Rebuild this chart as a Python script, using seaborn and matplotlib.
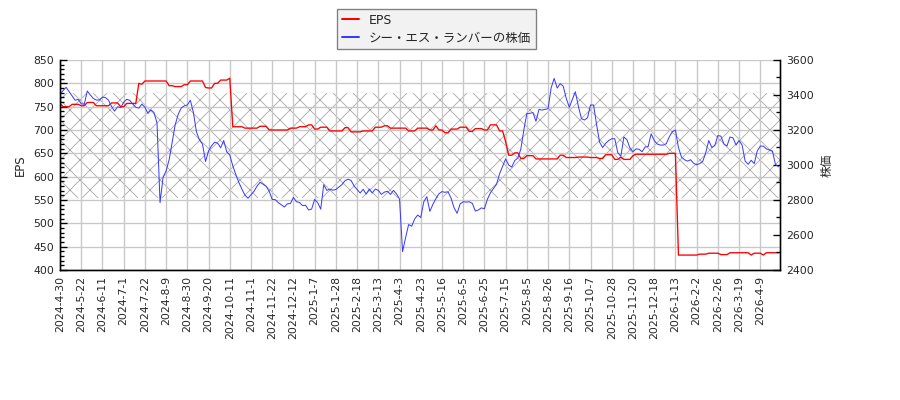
import numpy as np
import pandas as pd
import seaborn as sns
import matplotlib
matplotlib.use('Agg')
import matplotlib.pyplot as plt
from matplotlib.ticker import MultipleLocator

# x tick labels (one every 14 trading days)
tick_labels = ['2024-4-30', '2024-5-22', '2024-6-11', '2024-7-1', '2024-7-22', '2024-8-9',
               '2024-8-30', '2024-9-20', '2024-10-11', '2024-11-1', '2024-11-22', '2024-12-12',
               '2025-1-7', '2025-1-28', '2025-2-18', '2025-3-13', '2025-4-3', '2025-4-23',
               '2025-5-16', '2025-6-5', '2025-6-25', '2025-7-15', '2025-8-5', '2025-8-26',
               '2025-9-16', '2025-10-7', '2025-10-28', '2025-11-20', '2025-12-18', '2026-1-13',
               '2026-2-2', '2026-2-26', '2026-3-19', '2026-4-9']

# share price, one value every 2 trading days
price = [3404, 3425, 3444, 3419, 3395, 3370, 3375, 3350, 3347, 3423,
         3400, 3380, 3371, 3372, 3388, 3385, 3370, 3335, 3308, 3333,
         3328, 3358, 3375, 3370, 3348, 3330, 3325, 3348, 3330, 3295,
         3315, 3300, 3240, 2785, 2930, 2966, 3030, 3130, 3230, 3290,
         3326, 3338, 3343, 3370, 3300, 3190, 3143, 3120, 3020, 3080,
         3110, 3130, 3125, 3098, 3140, 3075, 3057, 2995, 2945, 2900,
         2862, 2828, 2810, 2830, 2850, 2880, 2901, 2890, 2878, 2850,
         2803, 2802, 2785, 2773, 2760, 2778, 2780, 2815, 2790, 2786,
         2768, 2770, 2743, 2748, 2803, 2785, 2748, 2888, 2855, 2862,
         2856, 2860, 2874, 2888, 2910, 2919, 2912, 2880, 2860, 2840,
         2861, 2834, 2862, 2840, 2863, 2855, 2832, 2845, 2850, 2832,
         2855, 2835, 2805, 2505, 2585, 2660, 2650, 2692, 2714, 2700,
         2790, 2819, 2735, 2775, 2808, 2836, 2848, 2844, 2847, 2810,
         2755, 2724, 2778, 2790, 2788, 2790, 2781, 2737, 2743, 2755,
         2750, 2805, 2842, 2866, 2890, 2950, 2992, 3035, 3000, 2988,
         3025, 3040, 3090, 3200, 3295, 3295, 3300, 3250, 3318, 3314,
         3318, 3322, 3440, 3495, 3440, 3465, 3450, 3380, 3330, 3375,
         3419, 3335, 3265, 3257, 3270, 3343, 3343, 3230, 3130, 3100,
         3124, 3140, 3150, 3150, 3070, 3050, 3160, 3145, 3097, 3076,
         3092, 3090, 3076, 3103, 3105, 3178, 3140, 3120, 3114, 3114,
         3122, 3162, 3190, 3200, 3100, 3045, 3030, 3022, 3030, 3010,
         3001, 3008, 3020, 3070, 3140, 3100, 3112, 3168, 3165, 3120,
         3108, 3160, 3155, 3114, 3140, 3114, 3022, 3004, 3027, 3008,
         3080, 3108, 3108, 3092, 3086, 3080, 3003, 2990]

# EPS on the same dates
eps = [757, 750, 750, 750, 755, 755, 755, 752, 752, 759,
       759, 759, 752, 752, 752, 752, 752, 758, 758, 758,
       750, 750, 757, 757, 757, 757, 800, 798, 805, 805,
       805, 805, 805, 805, 805, 805, 795, 795, 793, 793,
       793, 797, 797, 805, 805, 805, 805, 805, 791, 790,
       790, 800, 800, 807, 807, 807, 811, 707, 707, 707,
       707, 704, 704, 704, 704, 704, 708, 708, 708, 700,
       700, 700, 700, 700, 700, 700, 704, 704, 704, 707,
       707, 707, 711, 711, 702, 702, 706, 706, 706, 698,
       698, 698, 698, 698, 705, 705, 696, 696, 696, 696,
       698, 698, 698, 698, 706, 706, 706, 709, 709, 704,
       704, 704, 704, 704, 704, 698, 698, 698, 704, 704,
       704, 704, 700, 700, 709, 700, 700, 694, 694, 702,
       702, 702, 706, 706, 706, 697, 697, 703, 703, 703,
       700, 700, 711, 711, 711, 698, 698, 675, 646, 646,
       651, 651, 639, 639, 645, 645, 645, 638, 638, 638,
       638, 638, 638, 638, 638, 646, 646, 641, 641, 641,
       641, 642, 642, 642, 642, 641, 641, 641, 639, 639,
       647, 647, 647, 637, 637, 642, 637, 637, 637, 645,
       648, 648, 648, 648, 648, 648, 648, 648, 648, 648,
       648, 650, 650, 650, 432, 432, 432, 432, 432, 432,
       432, 434, 434, 434, 436, 436, 436, 436, 433, 433,
       433, 437, 437, 437, 437, 437, 437, 437, 432, 436,
       436, 436, 432, 437, 437, 437, 437, 437]

band = [555, 779]  # hatched range on the EPS axis

sns.set_style('white')
plt.rcParams['font.family'] = ['DejaVu Sans', 'Noto Sans CJK JP']
plt.rcParams['hatch.linewidth'] = 0.5

df = pd.DataFrame({'day': np.arange(len(price)) * 2, 'EPS': eps, 'price': price})

fig = plt.figure(figsize=(7.5, 10 / 3), dpi=120)
ax = fig.add_axes([60 / 900, 130 / 400, 720 / 900, 210 / 400])
ax2 = ax.twinx()

ax.axhspan(band[0], band[1], facecolor='none', edgecolor='#a8a8a8', hatch='xx', linewidth=0, zorder=0)
sns.lineplot(data=df, x='day', y='EPS', ax=ax, color='red', linewidth=0.8, legend=False)
sns.lineplot(data=df, x='day', y='price', ax=ax2, color='#3a3aff', linewidth=0.6, legend=False)

ax.set_xlim(0, 475)
ax.set_ylim(400, 850)
ax2.set_ylim(2400, 3600)
ax.set_xticks(np.arange(len(tick_labels)) * 14)
ax.set_xticklabels(tick_labels, rotation=90)
ax.yaxis.set_major_locator(MultipleLocator(50))
ax.yaxis.set_minor_locator(MultipleLocator(10))
ax2.yaxis.set_major_locator(MultipleLocator(200))
ax2.yaxis.set_minor_locator(MultipleLocator(100))

ax.grid(True, color='#c8c8c8', linewidth=0.8)
for a in (ax, ax2):
    a.tick_params(which='major', direction='in', length=4, width=0.8, labelsize=6.5, color='black')
    a.tick_params(which='minor', direction='in', length=2.5, width=0.8, color='black')
    a.spines['top'].set_visible(False)
    for s in ('left', 'right', 'bottom'):
        a.spines[s].set_color('black')
        a.spines[s].set_linewidth(0.8)

ax.set_xlabel('')
ax.set_ylabel('EPS', fontsize=7)
ax2.set_ylabel('株価', fontsize=7)

handles = [ax.get_lines()[0], ax2.get_lines()[0]]
leg = fig.legend(handles, ['EPS', 'シー・エス・ランバーの株価'], loc='upper center',
                 bbox_to_anchor=(0.485, 0.977), fontsize=7.5, fancybox=False,
                 edgecolor='#808080', facecolor='#f2f2f2', framealpha=1,
                 handlelength=1.4, handletextpad=0.8, borderaxespad=0,
                 borderpad=0.35, labelspacing=0.4)
leg.get_frame().set_linewidth(0.8)
for h in leg.get_lines():
    h.set_linewidth(1.2)

fig.savefig('out.png', dpi=120)
